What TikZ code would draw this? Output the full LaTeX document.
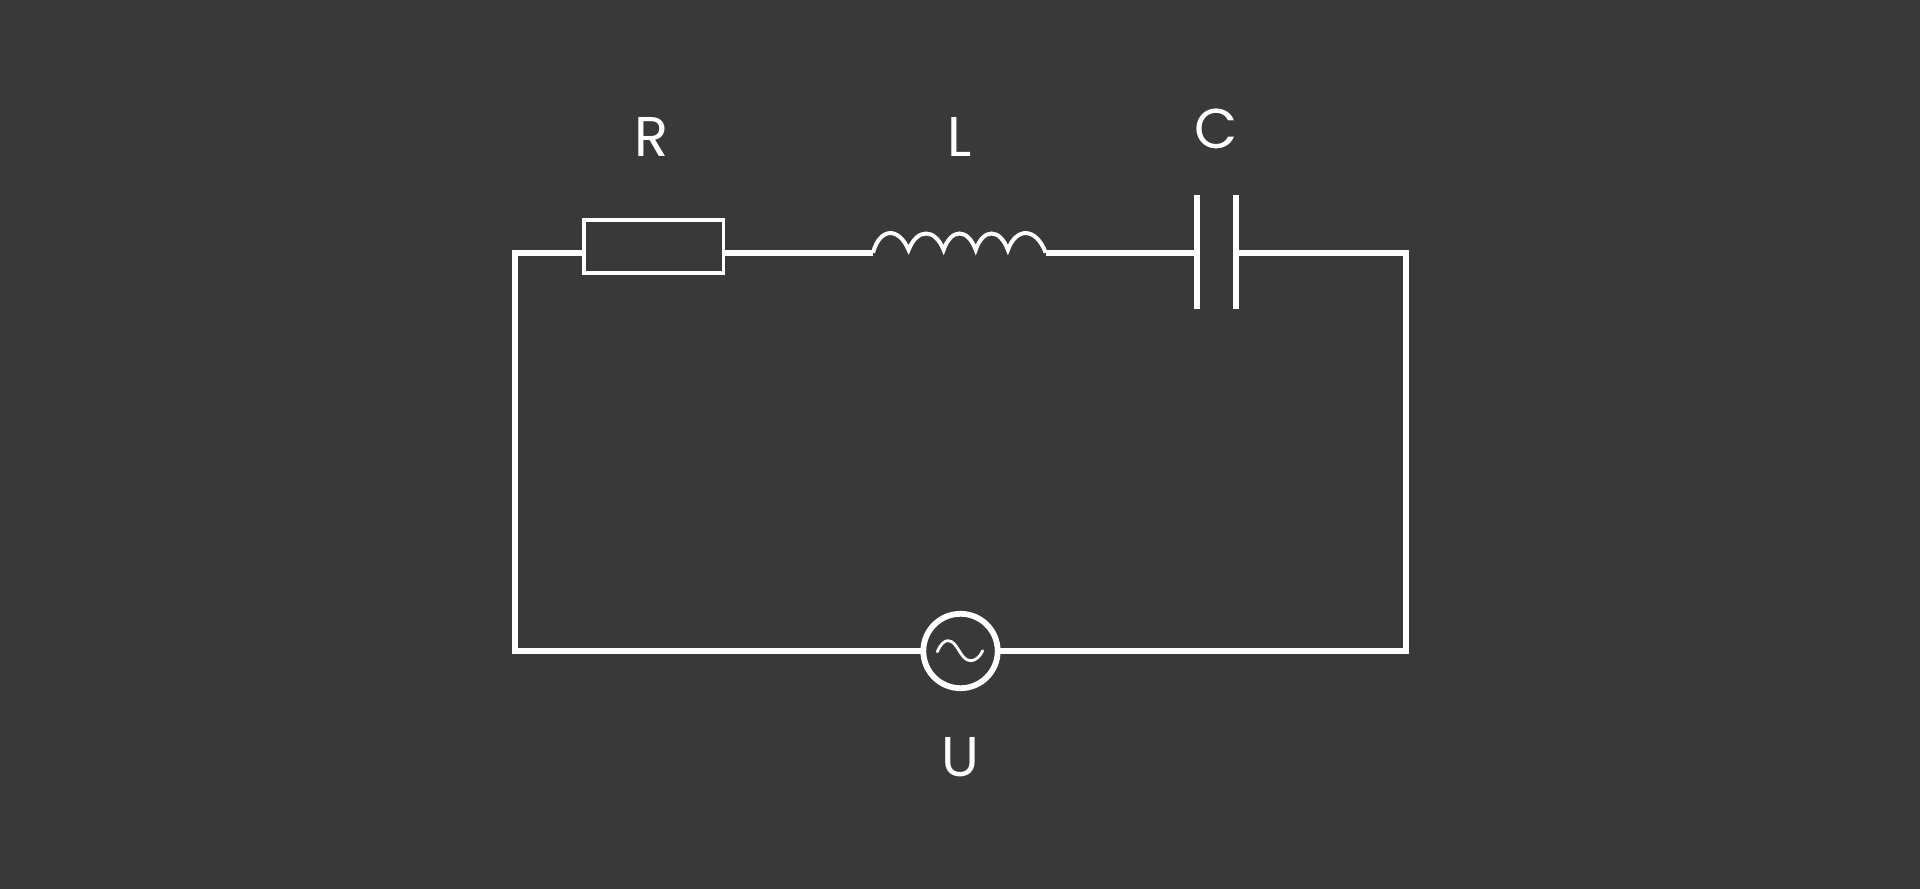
\documentclass[tikz,border=0pt]{standalone}
\usepackage{fontspec}
\setmainfont{Poppins}
\usetikzlibrary{positioning}
\definecolor{board}{HTML}{393939}

\begin{document}
\begin{tikzpicture}[
		x=1pt, y=-1pt,
		wire/.style = {draw=white, line width=5.8pt, miter limit=10},
		coil/.style = {draw=white, line width=4pt, miter limit=20},
		resbox/.style = {draw=white, line width=3.8pt, inner sep=0pt, outer sep=0pt, minimum width=139.5pt, minimum height=53.2pt},
		plate/.style = {fill=white, inner sep=0pt, outer sep=0pt, minimum width=6.2pt, minimum height=113.7pt},
		source/.style = {draw=white, circle, line width=5.8pt, inner sep=0pt, outer sep=0pt, minimum size=74.4pt},
		tag/.style = {text=white, inner sep=0pt, font=\fontsize{56}{60}\selectfont}
	]
	\fill[board] (0,0) rectangle (1920,889);
	\useasboundingbox (0,0) rectangle (1920,889);
	% Corners of the loop.
	\coordinate (tl) at (515,252.7);
	\coordinate (tr) at (1406,252.7);
	\coordinate (bl) at (515,651);
	\coordinate (br) at (1406,651);
	% Parts.
	\node[resbox] (res) at (653.8,246.5) {};
	\node[plate] (plateL) at (1197,252) {};
	\node[plate] (plateR) at (1235.7,252) {};
	\node[source] (src) at (960.5,651) {};
	\coordinate (coilin) at (873,252.7);
	\coordinate (coilout) at (1045.7,252.7);
	% Labels.
	\node[tag] (labR) at (651.5,136.7) {R};
	\node[tag] (labL) at (960,136.7) {L};
	\node[tag] (labC) at (1216,129) {C};
	\node[tag] (labU) at (960.5,757.5) {U};
	% Coil.
	\draw[coil] (coilin) .. controls (880,227) and (899,227) .. (908.6,250)
		.. controls (917,228) and (935,228) .. (943.6,250)
		.. controls (951,228) and (968,228) .. (975.7,250)
		.. controls (983,228) and (1000,228) .. (1007.9,250)
		.. controls (1016,227) and (1036,227) .. (coilout);
	% Sine inside the source.
	\draw[draw=white, line width=2.8pt, line cap=round] (937.3,651.7)
		.. controls (941,643) and (945,640.7) .. (948,640.7)
		.. controls (958,640.7) and (960,660.7) .. (970.7,660.7)
		.. controls (975,660.7) and (980,657) .. (982.7,650.7);
	% Wires.
	\draw[wire] (res.west |- tl) -- (tl) -- (bl) -- (src.west);
	\draw[wire] (res.east |- tl) -- (coilin);
	\draw[wire] (coilout) -- (plateL.west |- tl);
	\draw[wire] (plateR.east |- tr) -- (tr) -- (br) -- (src.east);
\end{tikzpicture}
\end{document}
